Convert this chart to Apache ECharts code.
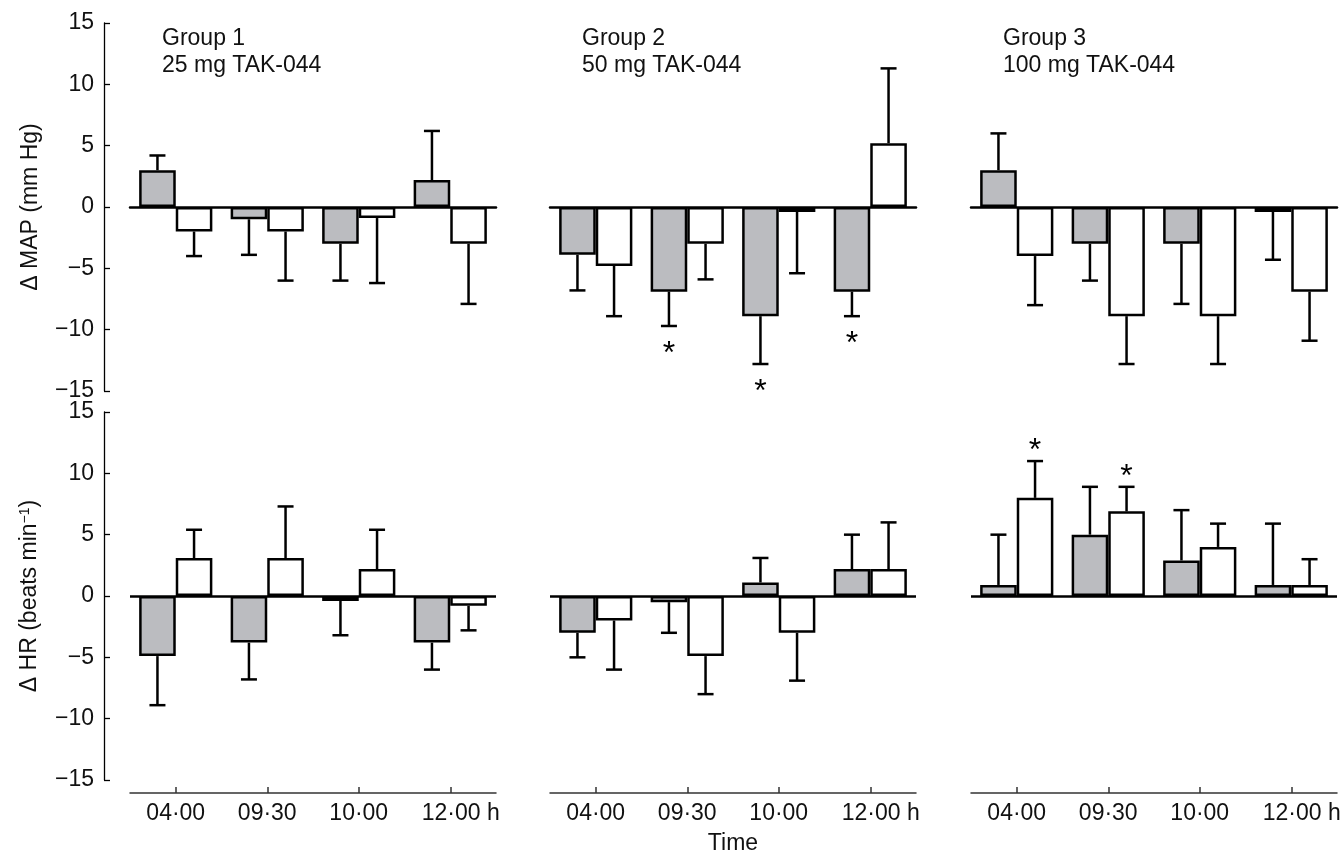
<!DOCTYPE html>
<html>
<head>
<meta charset="utf-8">
<script src="https://cdn.jsdelivr.net/npm/echarts@6/dist/echarts.min.js"></script>
<style>html,body{margin:0;padding:0;background:#fff}#c{width:1340px;height:850px}</style>
</head>
<body>
<div id="c"></div>
<script>
// ---- data ----
const times = ['04·00', '09·30', '10·00', '12·00 h'];
const groupLabels = ['Group 1\n25 mg TAK-044', 'Group 2\n50 mg TAK-044', 'Group 3\n100 mg TAK-044'];
const yTicks = [-15, -10, -5, 0, 5, 10, 15];

// Δ MAP (mm Hg): gray bars and white bars, with one-sided SE
const mapG1Gray = [3, -1, -3, 2.2];      const mapG1GraySE = [1.2, 2.9, 3, 4];
const mapG1White = [-2, -2, -0.9, -3];   const mapG1WhiteSE = [2, 4, 5.3, 4.9];
const mapG2Gray = [-3.9, -6.9, -8.9, -6.9]; const mapG2GraySE = [2.9, 2.8, 3.9, 2];
const mapG2White = [-4.8, -3, -0.4, 5.2];   const mapG2WhiteSE = [4.1, 2.9, 5, 6.1];
const mapG3Gray = [3, -3, -3, -0.4];     const mapG3GraySE = [3, 3, 4.9, 3.9];
const mapG3White = [-4, -8.9, -8.9, -6.9]; const mapG3WhiteSE = [4, 3.9, 3.9, 4];

// Δ HR (beats/min)
const hrG1Gray = [-4.9, -3.8, -0.4, -3.8]; const hrG1GraySE = [4, 3, 2.8, 2.2];
const hrG1White = [3.1, 3.1, 2.2, -0.8];  const hrG1WhiteSE = [2.3, 4.2, 3.2, 2];
const hrG2Gray = [-3, -0.5, 1.1, 2.2];    const hrG2GraySE = [2, 2.5, 2, 2.8];
const hrG2White = [-2, -4.9, -3, 2.2];    const hrG2WhiteSE = [4, 3.1, 3.9, 3.8];
const hrG3Gray = [0.9, 5, 2.9, 0.9];      const hrG3GraySE = [4.1, 3.9, 4.1, 5];
const hrG3White = [8, 6.9, 4, 0.9];       const hrG3WhiteSE = [3, 2, 1.9, 2.1];

// significance markers (*)
const mapG2GrayStar = [0, 1, 1, 1];
const hrG3WhiteStar = [1, 1, 0, 0];
const none = [0, 0, 0, 0];

// ---- layout ----
const FONT = '"Liberation Sans", Arial, sans-serif';
const FS = 23;
const GRAY = '#bbbcc0';
const panelLeft = [130, 550, 971];
const panelW = 366;
const rowTop = [23, 412];
const rowH = 368;

const panels = [
  [mapG1Gray, mapG1GraySE, mapG1White, mapG1WhiteSE, none, none],
  [mapG2Gray, mapG2GraySE, mapG2White, mapG2WhiteSE, mapG2GrayStar, none],
  [mapG3Gray, mapG3GraySE, mapG3White, mapG3WhiteSE, none, none],
  [hrG1Gray, hrG1GraySE, hrG1White, hrG1WhiteSE, none, none],
  [hrG2Gray, hrG2GraySE, hrG2White, hrG2WhiteSE, none, none],
  [hrG3Gray, hrG3GraySE, hrG3White, hrG3WhiteSE, none, hrG3WhiteStar]
];

function renderErr(params, api) {
  const cat = api.value(0), v = api.value(1), se = api.value(2), side = api.value(3), star = api.value(4);
  const band = api.size([1, 0])[0];
  const x = api.coord([cat, 0])[0] + side * 0.2 * band;
  const dir = v >= 0 ? 1 : -1;
  const end = v + dir * se;
  const y0 = api.coord([cat, v])[1];
  const y1 = api.coord([cat, end])[1];
  const st = { stroke: '#000', lineWidth: 2.5 };
  const children = [
    { type: 'line', shape: { x1: x, y1: y0, x2: x, y2: y1 }, style: st },
    { type: 'line', shape: { x1: x - 8, y1: y1, x2: x + 8, y2: y1 }, style: st }
  ];
  if (star) {
    children.push({
      type: 'text',
      style: { text: '*', x: x, y: y1 - dir * 19 + 9, textAlign: 'center', textVerticalAlign: 'middle',
               font: '32px ' + FONT, fill: '#000' }
    });
  }
  return { type: 'group', children: children };
}

const grids = [], xAxes = [], yAxes = [], series = [];
for (let r = 0; r < 2; r++) {
  for (let c = 0; c < 3; c++) {
    const i = r * 3 + c;
    grids.push({ left: panelLeft[c], top: rowTop[r], width: panelW, height: rowH,
                 containLabel: false, outerBoundsMode: 'none' });
    const bottomRow = r === 1;
    xAxes.push({
      gridIndex: i, type: 'category', data: times,
      position: bottomRow ? 'bottom' : undefined,
      offset: bottomRow ? 13 : 0,
      axisLine: { show: true, onZero: !bottomRow, lineStyle: bottomRow ? { color: '#333', width: 1.5 } : { color: '#000', width: 2.5 } },
      axisTick: { show: bottomRow, inside: true, length: 6, alignWithLabel: true, interval: 0, lineStyle: { color: '#333', width: 1.5 } },
      axisLabel: {
        show: bottomRow, interval: 0, margin: 9, fontSize: FS, fontFamily: FONT, color: '#111',
        formatter: v => (v.indexOf('h') >= 0 ? '{p|}' + v : v),
        rich: { p: { width: 21, fontSize: FS, fontFamily: FONT } }
      },
      name: (bottomRow && c === 1) ? 'Time' : '',
      nameLocation: 'middle', nameGap: 39,
      nameTextStyle: { fontSize: FS, fontFamily: FONT, color: '#111' },
      splitLine: { show: false }
    });
    const showY = c === 0;
    yAxes.push({
      gridIndex: i, type: 'value', min: -15, max: 15, interval: 5,
      show: showY, offset: 26,
      axisLine: { show: true, lineStyle: { color: '#000', width: 1.3 } },
      axisTick: { show: true, inside: true, length: 6, lineStyle: { color: '#000', width: 1.3 } },
      axisLabel: { margin: 10, fontSize: FS, fontFamily: FONT, color: '#111',
                   formatter: v => String(v).replace('-', '−') },
      splitLine: { show: false },
      name: showY ? (r === 0 ? 'Δ MAP (mm Hg)' : 'Δ HR (beats min{sup|−1})') : '',
      nameLocation: 'middle', nameGap: 62, nameRotate: 90,
      nameTextStyle: { fontSize: FS, fontFamily: FONT, color: '#111',
                       rich: { sup: { fontSize: 14, fontFamily: FONT, color: '#111', verticalAlign: 'top', padding: [0, 0, 10, 0] } } }
    });
    const p = panels[i];
    const barStyle = (col) => ({ color: col, borderColor: '#000', borderWidth: 2.5 });
    series.push({
      type: 'bar', xAxisIndex: i, yAxisIndex: i, data: p[0], barGap: '0%', barCategoryGap: '20%',
      itemStyle: barStyle(GRAY), silent: true,
      markLine: bottomRow ? { silent: true, symbol: 'none', label: { show: false },
        lineStyle: { color: '#000', width: 2.5, type: 'solid' }, data: [{ yAxis: 0 }] } : undefined
    });
    series.push({
      type: 'bar', xAxisIndex: i, yAxisIndex: i, data: p[2], barGap: '0%', barCategoryGap: '20%',
      itemStyle: barStyle('#ffffff'), silent: true
    });
    const errData = [];
    for (let k = 0; k < times.length; k++) {
      errData.push([k, p[0][k], p[1][k], -1, p[4][k]]);
      errData.push([k, p[2][k], p[3][k], 1, p[5][k]]);
    }
    series.push({
      type: 'custom', xAxisIndex: i, yAxisIndex: i, data: errData, renderItem: renderErr,
      encode: { x: 0, y: 1 }, silent: true, z: 3
    });
  }
}

const titles = groupLabels.map((t, c) => ({
  text: t, left: [162, 582, 1003][c], top: 25, padding: 0,
  textStyle: { fontSize: FS, fontWeight: 'normal', lineHeight: 27, color: '#111', fontFamily: FONT }
}));

const chart = echarts.init(document.getElementById('c'), null, { renderer: 'canvas' });
chart.setOption({
  animation: false,
  backgroundColor: '#fff',
  title: titles,
  grid: grids,
  xAxis: xAxes,
  yAxis: yAxes,
  series: series
});
</script>
</body>
</html>
